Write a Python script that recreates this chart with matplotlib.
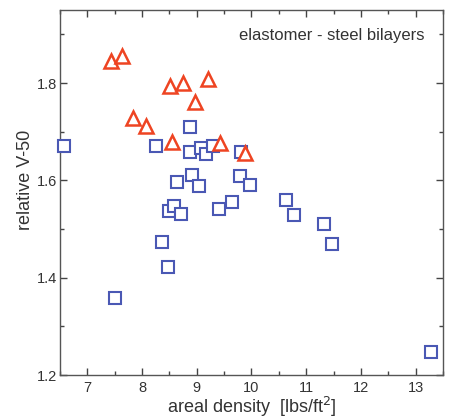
import matplotlib
matplotlib.use("Agg")
import matplotlib.pyplot as plt
from matplotlib.ticker import MultipleLocator

plt.rcParams['font.family'] = ['Liberation Sans', 'DejaVu Sans']

# blue squares (elastomer - steel bilayers, series 1)
sq_x = [6.57, 8.26, 8.885, 8.885, 9.086, 9.164, 9.30, 9.815, 8.92, 9.04, 8.63, 9.785, 9.97,
        8.49, 8.586, 8.72, 9.41, 9.645, 10.64, 10.78, 11.32, 11.48, 8.36, 8.476, 7.50, 13.29]
sq_y = [1.670, 1.671, 1.709, 1.659, 1.667, 1.654, 1.670, 1.659, 1.612, 1.588, 1.596, 1.609, 1.590,
        1.538, 1.548, 1.531, 1.542, 1.555, 1.559, 1.528, 1.511, 1.469, 1.474, 1.421, 1.358, 1.247]

# red triangles (series 2)
tr_x = [7.44, 7.64, 8.507, 8.74, 9.20, 8.96, 7.84, 8.08, 8.54, 9.43, 9.89]
tr_y = [1.846, 1.856, 1.794, 1.800, 1.808, 1.761, 1.728, 1.712, 1.679, 1.676, 1.657]

x_ticks = [7, 8, 9, 10, 11, 12, 13]
y_ticks = [1.2, 1.4, 1.6, 1.8]

fig = plt.figure(figsize=(4.5, 4.19), dpi=100)
ax = fig.add_axes([0.1333, 0.105, 0.851, 0.871])

ax.plot(sq_x, sq_y, linestyle='none', marker='s', markersize=9, markerfacecolor='white',
        markeredgecolor='#4a58b4', markeredgewidth=1.5, clip_on=False, zorder=3)
ax.plot(tr_x, tr_y, linestyle='none', marker='^', markersize=10, markerfacecolor='white',
        markeredgecolor='#ee4422', markeredgewidth=1.8, clip_on=False, zorder=4)

ax.set_xlim(6.5, 13.5)
ax.set_ylim(1.2, 1.95)
ax.set_xticks(x_ticks)
ax.set_yticks(y_ticks)
ax.set_yticklabels(['1.2', '1.4', '1.6', '1.8'])
ax.xaxis.set_minor_locator(MultipleLocator(0.5))
ax.yaxis.set_minor_locator(MultipleLocator(0.1))
ax.tick_params(which='both', direction='in', top=True, right=True, colors='#444444',
               labelcolor='#333333', labelsize=10.5, width=1)
ax.tick_params(which='major', length=5, pad=3)
ax.tick_params(which='minor', length=3)
ax.tick_params(axis='x', which='major', pad=4)
ax.tick_params(axis='y', which='major', pad=2)
for s in ax.spines.values():
    s.set_color('#555555')
    s.set_linewidth(1)

ax.set_xlabel('areal density  [lbs/ft$^2$]', fontsize=13, color='#333333', labelpad=0)
ax.set_ylabel('relative V-50', fontsize=13, color='#333333')
ax.yaxis.set_label_coords(-0.068, 0.534)
ax.text(0.953, 0.93, 'elastomer - steel bilayers', transform=ax.transAxes, ha='right',
        va='center', fontsize=12, color='#333333')

fig.savefig('out.png', dpi=100)
